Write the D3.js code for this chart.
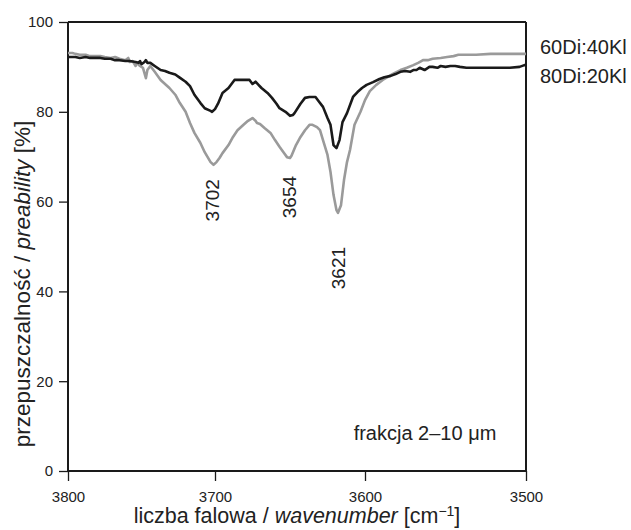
<!DOCTYPE html>
<html><head><meta charset="utf-8">
<script src="https://cdn.jsdelivr.net/npm/d3@7"></script>
<style>body{margin:0;background:#fff;} text{font-family:"Liberation Sans",Arial,sans-serif;fill:#222;}</style>
</head><body><svg id="c" width="631" height="530"></svg>
<script>
// wavenumber [cm-1]
const wnBlack = [3800,3795,3792,3788,3785,3782,3778,3775,3771,3768,3765,3761,3758,3754,3752,3751,3750,3748,3747,3746,3744,3741,3737,3734,3731,3727,3724,3720,3717,3714,3710,3707,3703,3702,3700,3698,3695,3691,3689,3687,3683,3680,3677,3675,3673,3671,3669,3665,3662,3659,3657,3653,3650,3648,3647,3643,3640,3637,3633,3631,3628,3625,3623,3621,3619,3617,3615,3612,3608,3605,3602,3599,3595,3591,3588,3584,3581,3578,3575,3572,3570,3568,3566,3563,3560,3558,3555,3553,3550,3547,3544,3541,3537,3529,3522,3516,3510,3504,3501,3500];
const valBlack = [92.2,92.2,92.0,92.2,92.0,92.0,92.0,91.8,91.8,91.5,91.5,91.3,91.3,91.1,90.9,91.3,90.6,91.1,91.5,90.9,90.9,90.2,89.3,89.1,88.7,88.3,87.6,86.7,85.7,83.8,82.0,80.8,80.2,80.0,80.6,81.8,84.2,85.3,86.2,87.1,87.1,87.1,87.1,86.2,86.7,86.0,85.3,84.2,83.1,81.8,80.8,80.0,79.1,79.3,79.7,81.8,83.1,83.3,83.3,82.4,81.1,78.6,77.1,72.6,71.9,73.7,77.7,79.7,83.3,84.4,85.3,86.0,86.6,87.3,87.7,88.0,88.4,88.9,89.1,88.9,89.3,89.3,89.8,89.3,90.0,90.0,89.8,90.2,90.0,90.2,90.2,90.0,89.8,89.8,89.8,89.8,89.8,90.0,90.4,90.4];
const wnGray = [3800,3797,3795,3792,3788,3785,3782,3778,3775,3771,3768,3765,3761,3759,3758,3756,3754,3753,3751,3749,3747,3746,3744,3741,3737,3734,3731,3727,3724,3720,3717,3714,3710,3707,3703,3701,3699,3697,3695,3691,3688,3685,3681,3678,3675,3673,3672,3670,3667,3663,3660,3657,3654,3652,3650,3649,3646,3643,3640,3637,3635,3632,3630,3628,3625,3623,3621,3619,3618,3616,3614,3612,3610,3607,3603,3600,3597,3593,3589,3586,3583,3578,3574,3570,3567,3565,3564,3561,3558,3553,3549,3545,3542,3537,3531,3522,3513,3507,3500];
const valGray = [93.1,93.1,92.9,92.7,92.7,92.4,92.4,92.4,92.2,92.0,92.2,91.8,91.5,92.0,91.1,91.3,90.2,90.9,90.2,89.8,87.5,89.3,90.2,88.9,87.1,86.2,85.3,83.8,82.0,80.0,77.5,75.3,73.1,71.0,68.8,68.2,68.8,69.7,70.8,72.6,74.4,75.9,77.1,78.0,78.6,78.0,77.5,77.3,76.4,75.3,73.7,72.2,70.8,69.9,69.7,70.2,72.6,74.4,75.9,77.1,77.1,76.6,75.9,73.7,70.4,66.6,61.5,58.1,57.5,59.2,64.8,68.8,71.5,77.1,80.0,82.6,84.6,86.0,87.1,87.7,88.4,89.3,89.8,90.4,90.9,91.3,91.5,91.5,91.8,92.0,92.2,92.4,92.7,92.7,92.7,92.9,92.9,92.9,92.9];
const xTicks = [3800,3700,3600,3500];
const yTicks = [0,20,40,60,80,100];
const peakLabels = ["3702","3654","3621"];
const peakPos = [3702,3651,3618];
const peakVal = [60.3,61.0,45.2];
const seriesNames = ["60Di:40Kl","80Di:20Kl"];

const svg = d3.select("#c");
const x = d3.scaleLinear().domain([3800,3700,3600,3500]).range([68,215,365,526]);
const y = d3.scaleLinear().domain([0,100]).range([471,22]);

// frame
svg.append("line").attr("x1",68).attr("x2",526).attr("y1",22).attr("y2",22).attr("stroke","#1a1a1a").attr("stroke-width",2);
svg.append("line").attr("x1",526).attr("x2",526).attr("y1",22).attr("y2",471).attr("stroke","#1a1a1a").attr("stroke-width",2);

const xa = svg.append("g").attr("transform","translate(0,471)")
  .call(d3.axisBottom(x).tickValues(xTicks).tickFormat(d3.format("d")).tickSize(10).tickPadding(10));
const ya = svg.append("g").attr("transform","translate(68,0)")
  .call(d3.axisLeft(y).tickValues(yTicks).tickSize(9).tickPadding(6));
[xa,ya].forEach(g=>{
  g.select(".domain").attr("stroke","#1a1a1a").attr("stroke-width",2);
  g.selectAll(".tick line").attr("stroke","#1a1a1a").attr("stroke-width",1.3);
  g.selectAll(".tick text").attr("font-size",15).attr("fill","#222").attr("font-family","Liberation Sans, Arial, sans-serif");
});
ya.select(".domain").attr("d","M0,22V471");
xa.select(".domain").attr("d","M68,0H526");

const line = d3.line().x(d=>x(d[0])).y(d=>y(d[1]));
svg.append("path").datum(d3.zip(wnGray,valGray)).attr("d",line).attr("fill","none").attr("stroke","#9a9a9a").attr("stroke-width",2.6).attr("stroke-linejoin","round");
svg.append("path").datum(d3.zip(wnBlack,valBlack)).attr("d",line).attr("fill","none").attr("stroke","#1a1a1a").attr("stroke-width",2.6).attr("stroke-linejoin","round");

// peak labels
peakLabels.forEach((t,i)=>{
  svg.append("text").attr("transform",`translate(${x(peakPos[i])+7},${y(peakVal[i])}) rotate(-90)`)
    .attr("text-anchor","middle").attr("font-size",19).text(t);
});

// legend
seriesNames.forEach((t,i)=>{
  svg.append("text").attr("x",540).attr("y",54+i*29).attr("font-size",20).text(t);
});

svg.append("text").attr("x",425).attr("y",440).attr("text-anchor","middle").attr("font-size",20).text("frakcja 2–10 μm");

// axis titles
const xt = svg.append("text").attr("x",297).attr("y",523).attr("text-anchor","middle").attr("font-size",21.5);
xt.append("tspan").text("liczba falowa / ");
xt.append("tspan").attr("font-style","italic").text("wavenumber");
xt.append("tspan").text("  [cm");
xt.append("tspan").attr("dy",-7).attr("font-size",14).text("−1");
xt.append("tspan").attr("dy",7).text("]");

const yt = svg.append("text").attr("transform","translate(30,284) rotate(-90)").attr("text-anchor","middle").attr("font-size",22.5);
yt.append("tspan").text("przepuszczalność / ");
yt.append("tspan").attr("font-style","italic").text("preability");
yt.append("tspan").text("  [%]");
</script></body></html>
